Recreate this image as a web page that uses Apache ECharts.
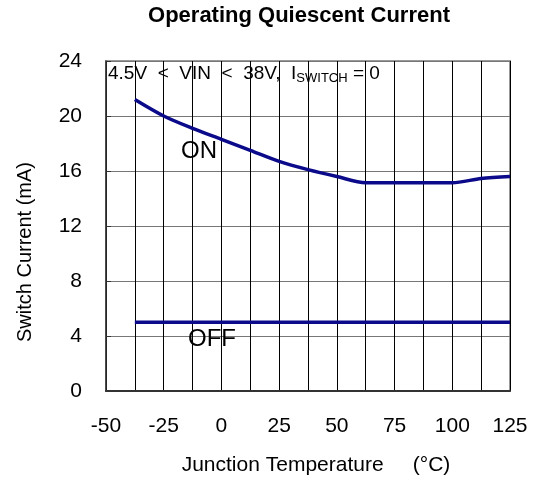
<!DOCTYPE html>
<html>
<head>
<meta charset="utf-8">
<script src="https://cdn.jsdelivr.net/npm/echarts@6/dist/echarts.min.js"></script>
<style>
  html, body { margin: 0; padding: 0; background: #fff; }
  #echart { width: 542px; height: 480px; }
</style>
</head>
<body>
<div id="echart"></div>
<script>
var onTemps = [-37.5, -25, -12.5, 0, 12.5, 25, 37.5, 50, 62.5, 75, 87.5, 100, 112.5, 125];
var onCurrent = [21.2, 20.0, 19.1, 18.3, 17.5, 16.7, 16.1, 15.6, 15.15, 15.15, 15.15, 15.15, 15.45, 15.6];
var offTemps = [-37.5, 125];
var offCurrent = [5.0, 5.0];
var xTickLabels = [-50, -25, 0, 25, 50, 75, 100, 125];

var myChart = echarts.init(document.getElementById("echart"));
var font = 'Liberation Sans, Arial, sans-serif';

function pairs(xs, ys) {
  var out = [];
  for (var i = 0; i < xs.length; i++) out.push([xs[i], ys[i]]);
  return out;
}

var option = {
  backgroundColor: '#fff',
  animation: false,
  grid: {
    left: 106, right: 32, top: 61, bottom: 89,
    show: true, borderColor: '#999', borderWidth: 2
  },
  xAxis: {
    type: 'value',
    min: -50, max: 125, interval: 12.5,
    axisLine: { onZero: false, lineStyle: { color: '#333', width: 2 } },
    axisTick: { show: false },
    splitLine: { lineStyle: { color: '#000', width: 1 } },
    axisLabel: {
      color: '#000', fontSize: 21, fontFamily: font, margin: 25,
      formatter: function (v) {
        return xTickLabels.indexOf(v) >= 0 ? String(v) : '';
      }
    }
  },
  yAxis: {
    type: 'value',
    min: 0, max: 24, interval: 4,
    axisLine: { show: true, onZero: false, lineStyle: { color: '#333', width: 1.5 } },
    axisTick: { show: true, inside: true, length: 5, lineStyle: { color: '#333' } },
    splitLine: { lineStyle: { color: '#777', width: 1 } },
    axisLabel: { color: '#000', fontSize: 21, fontFamily: font, margin: 24 }
  },
  graphic: [
    { type: 'text', style: { text: 'Operating Quiescent Current', x: 299, y: 16, align: 'center', verticalAlign: 'middle', fontSize: 22, fontWeight: 'bold', fontFamily: font, fill: '#000' } },
    { type: 'text', style: { text: 'Junction Temperature     (°C)', x: 316, y: 465, align: 'center', verticalAlign: 'middle', fontSize: 21, fontFamily: font, fill: '#000' } },
    { type: 'text', x: 25, y: 252, rotation: Math.PI / 2, style: { text: 'Switch Current (mA)', x: 0, y: 0, align: 'center', verticalAlign: 'middle', fontSize: 20, fontFamily: font, fill: '#000' } },
    { type: 'text', z: 100, style: {
        text: '4.5V  <  VIN  <  38V,  I{sub|SWITCH} = 0',
        x: 108, y: 74, align: 'left', verticalAlign: 'middle',
        fontSize: 19, fontFamily: font, fill: '#000',
        rich: { sub: { fontSize: 13, fontFamily: font, fill: '#000', padding: [8, 0, 0, 0] } }
      } },
    { type: 'text', z: 100, style: { text: 'ON', x: 199, y: 151, align: 'center', verticalAlign: 'middle', fontSize: 24, fontFamily: font, fill: '#000' } },
    { type: 'text', z: 100, style: { text: 'OFF', x: 212, y: 339, align: 'center', verticalAlign: 'middle', fontSize: 24, fontFamily: font, fill: '#000' } }
  ],
  series: [
    {
      name: 'ON', type: 'line', data: pairs(onTemps, onCurrent),
      smooth: 0.3, showSymbol: false,
      lineStyle: { color: '#0a0a8a', width: 3.5 }
    },
    {
      name: 'OFF', type: 'line', data: pairs(offTemps, offCurrent),
      showSymbol: false,
      lineStyle: { color: '#0a0a8a', width: 3.5 }
    }
  ]
};

myChart.setOption(option);
</script>
</body>
</html>
